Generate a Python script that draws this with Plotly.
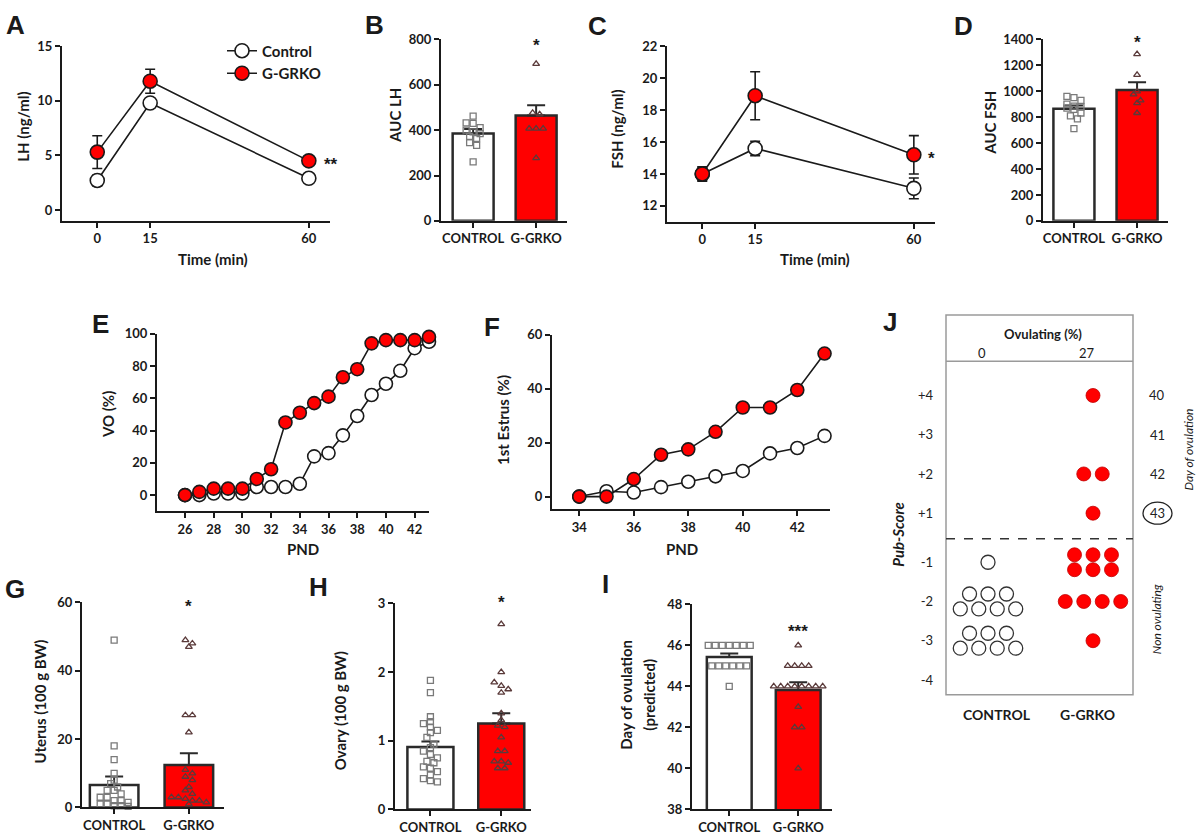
import plotly.graph_objects as go

W, H = 1200, 840
RED = "#FF0000"
INK = "#1a1a1a"
FONT = "Lato"

# ---------------- data ----------------
groups = ["CONTROL", "G-GRKO"]

# A: LH time course
time_pts = [0, 15, 60]
lh_ctrl = [2.7, 9.8, 2.9]
lh_ctrl_err = [0.5, 0.4, 0.2]
lh_ko = [5.3, 11.8, 4.5]
lh_ko_err = [1.5, 1.1, 0.2]

# B: AUC LH
auc_lh_mean = [385, 465]
auc_lh_sem = [20, 45]
auc_lh_ctrl_pts = [462, 432, 430, 411, 400, 392, 385, 372, 363, 345, 333, 260]
auc_lh_ko_pts = [692, 476, 470, 407, 407, 407, 277]

# C: FSH time course
fsh_ctrl = [14.0, 15.6, 13.1]
fsh_ctrl_err = [0.4, 0.45, 0.65]
fsh_ko = [14.0, 18.9, 15.2]
fsh_ko_err = [0.45, 1.5, 1.2]

# D: AUC FSH
auc_fsh_mean = [865, 1010]
auc_fsh_sem = [25, 60]
auc_fsh_ctrl_pts = [961, 950, 930, 900, 885, 880, 870, 860, 832, 810, 787, 711]
auc_fsh_ko_pts = [1286, 1127, 999, 976, 930, 908, 832]

# E: vaginal opening
pnd_e = list(range(26, 44))
vo_ctrl = [0, 0, 1, 1, 1, 5, 5, 5, 7, 24, 26, 37, 49, 62, 69, 77, 91, 95]
vo_ko = [0, 2, 4, 4, 4, 10, 16, 45, 51, 57, 61, 73, 78, 94, 96, 96, 96, 98]

# F: first estrus
pnd_f = list(range(34, 44))
estrus_ctrl = [0, 2, 1.5, 3.5, 5.5, 7.5, 9.5, 16, 18, 22.5]
estrus_ko = [0, 0, 6.5, 15.5, 17.5, 24, 33, 33, 39.5, 53]

# G: uterus weight
uterus_mean = [6.6, 12.4]
uterus_sem = [2.5, 3.5]
uterus_ctrl_pts = [49, 18, 14, 10, 8, 7, 6, 5, 5, 4, 3, 3, 2, 2, 1.5, 1, 1, 0.5, 0.5, 0.3]
uterus_ko_pts = [49, 48, 47, 27, 27, 22, 11, 10, 9, 8, 6, 5, 4, 3, 3, 2.5, 2, 2, 1.5, 1]

# H: ovary weight
ovary_mean = [0.91, 1.25]
ovary_sem = [0.08, 0.15]
ovary_ctrl_pts = [1.88, 1.7, 1.35, 1.28, 1.25, 1.2, 1.15, 1.12, 1.05, 0.95, 0.9, 0.85,
                  0.8, 0.75, 0.7, 0.68, 0.62, 0.6, 0.55, 0.5, 0.45, 0.42, 0.4]
ovary_ko_pts = [2.7, 2.0, 1.85, 1.8, 1.75, 1.7, 1.4, 1.3, 1.22, 1.2, 1.05, 0.85, 0.85,
                0.7, 0.7, 0.68, 0.6, 0.6]

# I: predicted day of ovulation
ovday_mean = [45.43, 43.82]
ovday_sem = [0.18, 0.38]
ovday_ctrl_pts = [46] * 7 + [45] * 6 + [44]
ovday_ko_pts = [46] + [45] * 4 + [44] * 8 + [43] + [42] * 2 + [40]

# J: pub-score
j_scores = [4, 3, 2, 1, -1, -2, -3, -4]
j_ctrl_counts = [0, 0, 0, 0, 1, 7, 7, 0]
j_ko_counts = [1, 0, 2, 1, 6, 4, 1, 0]
j_day_labels = ["40", "41", "42", "43"]

# ---------------- helpers ----------------
fig = go.Figure()
TICKFONT = dict(family=FONT, size=13, color=INK, weight="bold")


def dom_x(a, b):
    return [a / W, b / W]


def dom_y(bottom_px, top_px):
    return [1 - bottom_px / H, 1 - top_px / H]


def axis_pair(n, xd, yd, xr, yr, xtv=None, xtt=None, ytv=None, hide=False):
    sx = "" if n == 1 else str(n)
    base = dict(showline=not hide, linecolor=INK, linewidth=2, ticks="" if hide else "outside",
                ticklen=5, tickwidth=2, tickcolor=INK, showgrid=False, zeroline=False,
                tickfont=TICKFONT, fixedrange=True)
    xa = dict(base, domain=xd, range=xr, anchor="y" + sx)
    ya = dict(base, domain=yd, range=yr, anchor="x" + sx)
    if xtv is not None:
        xa.update(tickmode="array", tickvals=xtv)
        if xtt is not None:
            xa.update(ticktext=xtt)
    if ytv is not None:
        ya.update(tickmode="array", tickvals=ytv)
    fig.update_layout(**{"xaxis" + sx: xa, "yaxis" + sx: ya})
    return "x" + sx, "y" + sx


def swarm(vals, center, ppu_y, ppu_x, size=7.0):
    bins = {}
    for v in sorted(vals, reverse=True):
        bins.setdefault(round(v * ppu_y / size), []).append(v)
    xs, ys = [], []
    for k in bins:
        grp = bins[k]
        n = len(grp)
        for j, v in enumerate(grp):
            xs.append(center + (j - (n - 1) / 2) * size / ppu_x)
            ys.append(v)
    return xs, ys


def line_pair(xa, ya, x, c, ko, c_err=None, ko_err=None, size=14, legend=False):
    for name, yv, err, fill in [("Control", c, c_err, "white"), ("G-GRKO", ko, ko_err, RED)]:
        tr = dict(x=x, y=yv, mode="lines+markers", name=name, xaxis=xa, yaxis=ya,
                  line=dict(color=INK, width=1.6),
                  marker=dict(size=size, color=fill, line=dict(color=INK, width=1.6)),
                  showlegend=legend, cliponaxis=False)
        if err is not None:
            tr["error_y"] = dict(type="data", array=err, color=INK, thickness=1.6, width=5)
        fig.add_trace(go.Scatter(**tr))


def bar_pair(xa, ya, means, sems, cpts, kpts, ppu_y, ppu_x, size=7.0):
    for i, fill in enumerate(["white", RED]):
        fig.add_trace(go.Bar(x=[i], y=[means[i]], width=0.65, xaxis=xa, yaxis=ya,
                             marker=dict(color=fill, line=dict(color="#2a2a2a", width=2.5)),
                             error_y=dict(type="data", array=[sems[i]], arrayminus=[0],
                                          symmetric=False, color="#2a2a2a", thickness=2, width=9),
                             showlegend=False))
    xs, ys = swarm(cpts, 0, ppu_y, ppu_x, size)
    fig.add_trace(go.Scatter(x=xs, y=ys, mode="markers", xaxis=xa, yaxis=ya, showlegend=False,
                             marker=dict(symbol="square-open", size=6, color="#7a7a7a",
                                         line=dict(width=1.3)), cliponaxis=False))
    xs, ys = swarm(kpts, 1, ppu_y, ppu_x, size)
    fig.add_trace(go.Scatter(x=xs, y=ys, mode="markers", xaxis=xa, yaxis=ya, showlegend=False,
                             marker=dict(symbol="triangle-up-open", size=6, color="#5a3a3a",
                                         line=dict(width=1.3)), cliponaxis=False))


annotations = []


def text(x, y, s, size=15, angle=0, bold=True, italic=False, family=FONT, xanchor="center",
         yanchor="middle", color=INK, xref="paper", yref="paper", xshift=0, yshift=0):
    annotations.append(dict(
        x=x / W if xref == "paper" else x, y=1 - y / H if yref == "paper" else y,
        xref=xref, yref=yref, text=s, showarrow=False, textangle=angle,
        xanchor=xanchor, yanchor=yanchor, xshift=xshift, yshift=yshift,
        font=dict(family=family, size=size, color=color, weight="bold" if bold else "normal",
                  style="italic" if italic else "normal")))


def star(xa, ya, x, y, s, xshift=0, yshift=-4):
    annotations.append(dict(x=x, y=y, xref=xa, yref=ya, text=s, showarrow=False,
                            xshift=xshift, yshift=yshift, xanchor="center", yanchor="middle",
                            font=dict(family="Liberation Sans", size=17, color=INK, weight="bold")))


# ---------------- panel A ----------------
xa, ya = axis_pair(1, dom_x(62, 330), dom_y(217, 39), [-10, 66], [-1, 15],
                   xtv=time_pts, ytv=[0, 5, 10, 15])
line_pair(xa, ya, time_pts, lh_ctrl, lh_ko, lh_ctrl_err, lh_ko_err, size=14, legend=True)
star(xa, ya, 60, lh_ko[2], "**", xshift=22)
text(23, 121, "LH (ng/ml)", angle=-90)
text(213, 256, "Time (min)")

# ---------------- panel B ----------------
xa, ya = axis_pair(2, dom_x(441, 567), dom_y(217, 32), [-0.51, 1.49], [0, 800],
                   xtv=[0, 1], xtt=groups, ytv=[0, 200, 400, 600, 800])
bar_pair(xa, ya, auc_lh_mean, auc_lh_sem, auc_lh_ctrl_pts, auc_lh_ko_pts, 185 / 800, 63)
star(xa, ya, 1, 790, "*")
text(395, 110, "AUC LH", angle=-90)

# ---------------- panel C ----------------
xa, ya = axis_pair(3, dom_x(667, 935), dom_y(218, 39), [-10, 66], [11, 22],
                   xtv=time_pts, ytv=[12, 14, 16, 18, 20, 22])
line_pair(xa, ya, time_pts, fsh_ctrl, fsh_ko, fsh_ctrl_err, fsh_ko_err, size=14)
star(xa, ya, 60, fsh_ko[2], "*", xshift=18)
text(617, 124, "FSH (ng/ml)", angle=-90)
text(815, 256, "Time (min)")

# ---------------- panel D ----------------
xa, ya = axis_pair(4, dom_x(1043, 1168), dom_y(217, 32), [-0.49, 1.49], [0, 1400],
                   xtv=[0, 1], xtt=groups, ytv=list(range(0, 1401, 200)))
bar_pair(xa, ya, auc_fsh_mean, auc_fsh_sem, auc_fsh_ctrl_pts, auc_fsh_ko_pts, 185 / 1400, 63)
star(xa, ya, 1, 1400, "*", yshift=-3)
text(990, 117, "AUC FSH", angle=-90)

# ---------------- panel E ----------------
xa, ya = axis_pair(5, dom_x(157, 429), dom_y(513, 332), [24.05, 43.0], [-10, 100],
                   xtv=list(range(26, 43, 2)), ytv=list(range(0, 101, 20)))
line_pair(xa, ya, pnd_e, vo_ctrl, vo_ko, size=13)
text(108, 415, "VO (%)", angle=-90)
text(303, 552, "PND")

# ---------------- panel F ----------------
xa, ya = axis_pair(6, dom_x(552, 830), dom_y(511, 333), [33.0, 43.2], [-4.7, 60],
                   xtv=list(range(34, 43, 2)), ytv=[0, 20, 40, 60])
line_pair(xa, ya, pnd_f, estrus_ctrl, estrus_ko, size=13)
text(503, 420, "1st Estrus (%)", angle=-90)
text(682, 552, "PND")

# ---------------- panel G ----------------
xa, ya = axis_pair(7, dom_x(82, 224), dom_y(815, 606), [-0.43, 1.47], [0, 60],
                   xtv=[0, 1], xtt=groups, ytv=[0, 20, 40, 60])
bar_pair(xa, ya, uterus_mean, uterus_sem, uterus_ctrl_pts, uterus_ko_pts, 3.48, 75)
star(xa, ya, 1, 60, "*")
text(40, 707, "Uterus (100 g BW)", angle=-90)

# ---------------- panel H ----------------
xa, ya = axis_pair(8, dom_x(395, 531), dom_y(817, 607), [-0.5, 1.42], [0, 3],
                   xtv=[0, 1], xtt=groups, ytv=[0, 1, 2, 3])
bar_pair(xa, ya, ovary_mean, ovary_sem, ovary_ctrl_pts, ovary_ko_pts, 70, 71)
star(xa, ya, 1, 3, "*", yshift=1)
text(340, 717, "Ovary (100 g BW)", angle=-90)

# ---------------- panel I ----------------
xa, ya = axis_pair(9, dom_x(692, 832), dom_y(817, 608), [-0.54, 1.49], [38, 48],
                   xtv=[0, 1], xtt=groups, ytv=[38, 40, 42, 44, 46, 48])
bar_pair(xa, ya, ovday_mean, ovday_sem, ovday_ctrl_pts, ovday_ko_pts, 20.9, 69)
star(xa, ya, 1, 46.85, "***")
text(626, 700, "Day of ovulation", angle=-90)
text(649, 700, "(predicted)", angle=-90)

# ---------------- panel J ----------------
def jpos(s):
    return s if s > 0 else s + 0.75


fig.update_layout(
    xaxis10=dict(domain=dom_x(946, 1133), range=[-0.4, 1.381], anchor="y10", visible=False,
                 fixedrange=True),
    yaxis10=dict(domain=dom_y(700, 360), range=[-3.625, 4.875], anchor="x10", showline=False,
                 showgrid=False, zeroline=False, ticks="", tickmode="array",
                 tickvals=[jpos(s) for s in j_scores],
                 ticktext=[("+%d" % s) if s > 0 else str(s) for s in j_scores],
                 tickfont=dict(family=FONT, size=13, color="#222"), ticklabelstandoff=12,
                 fixedrange=True),
)


def j_dots(counts, center):
    xs, ys = [], []
    sx, sy = 0.176, 0.19
    for s, n in zip(j_scores, counts):
        if n == 0:
            continue
        rows = [(n, 0.0)] if n <= 4 else [(n // 2, sy), (n - n // 2, -sy)]
        for k, off in rows:
            for j in range(k):
                xs.append(center + (j - (k - 1) / 2) * sx)
                ys.append(jpos(s) + off)
    return xs, ys


xs, ys = j_dots(j_ctrl_counts, 0)
fig.add_trace(go.Scatter(x=xs, y=ys, mode="markers", xaxis="x10", yaxis="y10", showlegend=False,
                         marker=dict(size=14, color="white", line=dict(color="#333", width=1.3))))
xs, ys = j_dots(j_ko_counts, 1)
fig.add_trace(go.Scatter(x=xs, y=ys, mode="markers", xaxis="x10", yaxis="y10", showlegend=False,
                         marker=dict(size=14, color=RED, line=dict(color="#C00000", width=0.8))))

pct = []
for counts in (j_ctrl_counts, j_ko_counts):
    ov = sum(n for s, n in zip(j_scores, counts) if s > 0)
    pct.append(round(100 * ov / sum(counts)))

text(1043, 332, "Ovulating (%)", size=13)
text(982, 352, str(pct[0]), size=13, bold=False)
text(1087, 352, str(pct[1]), size=13, bold=False)
text(997, 720, groups[0], size=14)
text(1087, 720, groups[1], size=14)
for lab, s in zip(j_day_labels, [4, 3, 2, 1]):
    annotations.append(dict(x=1157 / W, y=jpos(s), xref="paper", yref="y10", text=lab,
                            showarrow=False, xanchor="center", yanchor="middle",
                            font=dict(family=FONT, size=13, color="#222")))
text(1188, 450, "Day of ovulation", size=12, angle=-90, bold=False, italic=True)
text(1156, 623, "Non ovulating", size=12, angle=-90, bold=False, italic=True)
text(898, 537, "Pub-Score", size=15, angle=-90, italic=True)

shapes = [
    dict(type="rect", xref="paper", yref="paper", x0=946 / W, x1=1133 / W,
         y0=1 - 700 / H, y1=1 - 313 / H, line=dict(color="#9a9a9a", width=1.5)),
    dict(type="line", xref="paper", yref="paper", x0=946 / W, x1=1133 / W,
         y0=1 - 360 / H, y1=1 - 360 / H, line=dict(color="#9a9a9a", width=1.5)),
    dict(type="line", xref="paper", yref="y10", x0=946 / W, x1=1133 / W,
         y0=0.35, y1=0.35, line=dict(color="#333", width=1.5, dash="dash")),
    dict(type="circle", xref="paper", yref="y10", x0=1143 / W, x1=1172 / W,
         y0=jpos(1) - 0.28, y1=jpos(1) + 0.28, line=dict(color="#222", width=1.3)),
]

# panel letters
for letter, lx, ly in [("A", 15, 17), ("B", 374, 17), ("C", 597, 18), ("D", 963, 18),
                       ("E", 100, 322), ("F", 492, 325), ("G", 15, 592), ("H", 318, 590),
                       ("I", 605, 587), ("J", 890, 320)]:
    text(lx, ly, letter, size=26, family="Liberation Sans")

fig.update_layout(
    width=W, height=H, margin=dict(l=0, r=0, t=0, b=0),
    paper_bgcolor="white", plot_bgcolor="white", barmode="overlay",
    annotations=annotations, shapes=shapes,
    legend=dict(x=222 / W, y=1 - 27 / H, xanchor="left", yanchor="top",
                bgcolor="rgba(0,0,0,0)", font=dict(family=FONT, size=15, color=INK, weight="bold"),
                itemwidth=30, tracegroupgap=2),
    showlegend=True,
)

fig.write_html("out.html", config={"displayModeBar": False},
               post_script="document.body.style.margin='0px';")
